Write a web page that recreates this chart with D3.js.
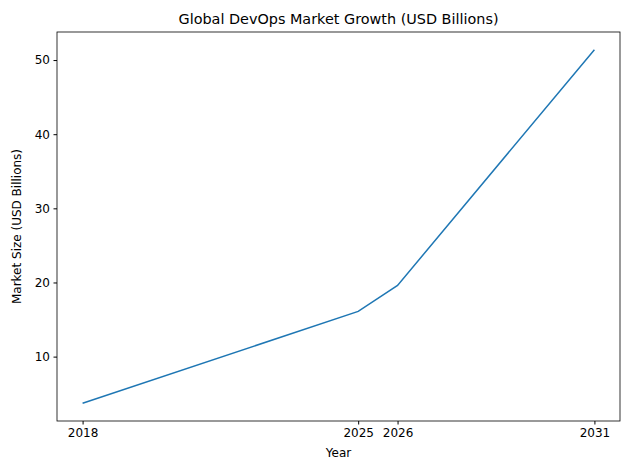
<!DOCTYPE html>
<html><head><meta charset="utf-8">
<script src="https://cdn.jsdelivr.net/npm/d3@7"></script>
<style>body{margin:0;background:#fff}text{font-family:"DejaVu Sans",sans-serif}</style>
</head><body><svg id="c" width="630" height="470"></svg>
<script>
const years=[2018,2025,2026,2031];
const values=[3.7,16.1,19.6,51.4];
const yTicks=[10,20,30,40,50];
const svg=d3.select("#c");
const L=57,R=620,T=32,B=421;
const xr=years[3]-years[0], yr=d3.max(values)-d3.min(values);
const x=d3.scaleLinear().domain([years[0]-0.05*xr,years[3]+0.05*xr]).range([L,R]);
const y=d3.scaleLinear().domain([d3.min(values)-0.05*yr,d3.max(values)+0.05*yr]).range([B,T]);
const xa=svg.append("g").attr("transform",`translate(0,${B})`).call(d3.axisBottom(x).tickValues(years).tickFormat(d3.format("d")).tickSize(3.5).tickPadding(3.5));
const ya=svg.append("g").attr("transform",`translate(${L},0)`).call(d3.axisLeft(y).tickValues(yTicks).tickSize(3.5).tickPadding(3.5));
[xa,ya].forEach(a=>{a.select(".domain").remove();a.selectAll("text").attr("font-size",12).attr("fill","#000").style("font-family","DejaVu Sans");a.selectAll("line").attr("stroke","#000");});
svg.append("rect").attr("x",L).attr("y",T).attr("width",R-L).attr("height",B-T).attr("fill","none").attr("stroke","#000").attr("stroke-width",0.8);
svg.append("path").datum(years.map((d,i)=>[d,values[i]])).attr("fill","none").attr("stroke","#1f77b4").attr("stroke-width",1.5)
 .attr("d",d3.line().x(d=>x(d[0])).y(d=>y(d[1])));
svg.append("text").attr("x",(L+R)/2).attr("y",24).attr("text-anchor","middle").attr("font-size",14.4).text("Global DevOps Market Growth (USD Billions)");
svg.append("text").attr("x",(L+R)/2).attr("y",457).attr("text-anchor","middle").attr("font-size",12).text("Year");
svg.append("text").attr("transform",`translate(21,${(T+B)/2}) rotate(-90)`).attr("text-anchor","middle").attr("font-size",12).text("Market Size (USD Billions)");
</script></body></html>
